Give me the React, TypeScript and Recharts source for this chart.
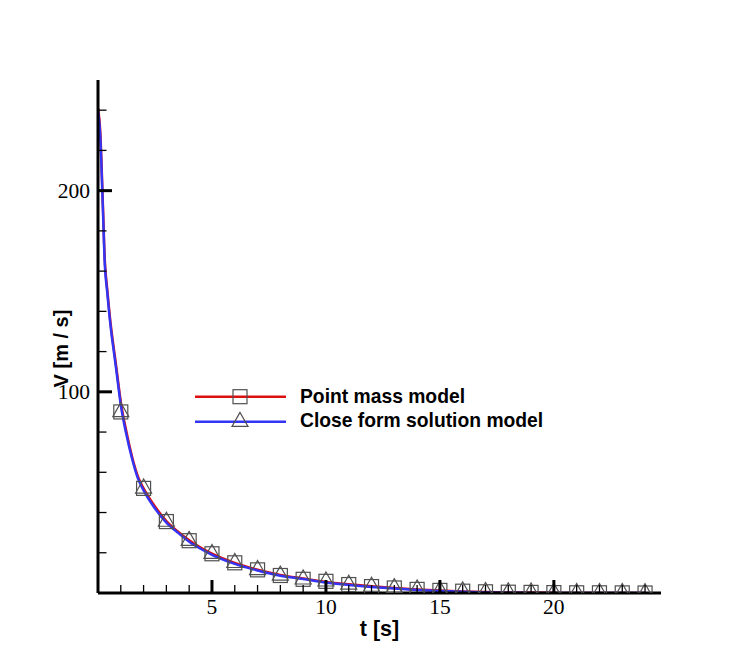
import React from 'react';
import { ComposedChart, Line, Scatter, XAxis, YAxis, Legend } from 'recharts';

// Time samples for the solution curves [s]
const curveTimes = [0, 0.1, 0.2, 0.3, 0.4, 0.5, 0.6, 0.7, 0.8, 0.9, 1.0, 1.25, 1.5, 1.75, 2.0, 2.5, 3.0, 3.5, 4.0, 4.5, 5.0, 6, 7, 8, 9, 10, 11, 12, 13, 14, 15, 16, 17, 18, 19, 20, 21, 22, 23, 24];
// Point mass model velocity [m/s]
const pointMassV = [241, 229, 198, 165, 151.5, 139.5, 129.5, 121, 112.5, 103.5, 95, 80, 67.5, 58, 52, 43, 35.8, 30.6, 26.2, 22.6, 19.6, 15, 11.6, 9, 7.2, 5.5, 4.3, 3.3, 2.5, 1.8, 1.2, 0.8, 0.5, 0.3, 0.2, 0.1, 0, 0, 0, 0];
// Close form solution model velocity [m/s]
const closeFormV = [240, 227, 196, 163, 150, 138, 128, 119.5, 111, 102, 93.5, 78.5, 66.5, 57, 51, 42, 35, 30, 25.5, 22, 19, 14.5, 11.2, 8.6, 7, 5.2, 4, 3, 2.2, 1.5, 1, 0.6, 0.3, 0.1, 0.05, 0, 0, 0, 0, 0];
// Marker samples
const markerTimes = [1, 2, 3, 4, 5, 6, 7, 8, 9, 10, 11, 12, 13, 14, 15, 16, 17, 18, 19, 20, 21, 22, 23, 24];
const markerV = [90, 52, 35.5, 26, 19.5, 15, 11.5, 8.7, 6.8, 5.8, 4.2, 3.2, 2.5, 1.8, 1.3, 0.9, 0.6, 0.4, 0.3, 0.2, 0.1, 0.1, 0.05, 0];

const xTicks = [1, 2, 3, 4, 5, 6, 7, 8, 9, 10, 11, 12, 13, 14, 15, 16, 17, 18, 19, 20, 21, 22, 23, 24];
const yTicks = [20, 40, 60, 80, 100, 120, 140, 160, 180, 200, 220, 240];
const xMajor = [5, 10, 15, 20];
const yMajor = [100, 200];

const seriesNames = ['Point mass model', 'Close form solution model'];
const xLabel = 't [s]';
const yLabel = 'V [m / s]';

const RED = '#dd1010';
const BLUE = '#3434f4';
const MARK = '#505050';

const redData = curveTimes.map((t, i) => ({ t, v: pointMassV[i] }));
const blueData = curveTimes.map((t, i) => ({ t, v: closeFormV[i] }));
const markerData = markerTimes.map((t, i) => ({ t, v: markerV[i] }));

const serif = '"Liberation Serif", "Times New Roman", serif';
const sans = '"Liberation Sans", Arial, sans-serif';

const XTick = (props: any) => {
  const { x, y, payload } = props;
  const major = xMajor.includes(payload.value);
  return (
    <g>
      <line x1={x} x2={x} y1={y} y2={y - (major ? 13 : 8)} stroke="#000" strokeWidth={major ? 3 : 1.3} />
      {major && (
        <text x={x} y={y + 21} textAnchor="middle" fontFamily={serif} fontSize={21.5} fill="#000">
          {payload.value}
        </text>
      )}
    </g>
  );
};

const YTick = (props: any) => {
  const { x, y, payload } = props;
  const major = yMajor.includes(payload.value);
  return (
    <g>
      <line x1={x} x2={x + (major ? 14 : 8.5)} y1={y} y2={y} stroke="#000" strokeWidth={major ? 3 : 1.3} />
      {major && (
        <text x={x - 8} y={y + 7.3} textAnchor="end" fontFamily={serif} fontSize={21.5} fill="#000">
          {payload.value}
        </text>
      )}
    </g>
  );
};

const Square = (props: any) => {
  const { cx, cy } = props;
  if (cx == null || cy == null) return <g />;
  return <rect x={cx - 7} y={cy - 7} width={14} height={14} fill="none" stroke={MARK} strokeWidth={1.2} />;
};

const Triangle = (props: any) => {
  const { cx, cy } = props;
  if (cx == null || cy == null) return <g />;
  const h = 14;
  const w = 16;
  const top = cy - (2 * h) / 3;
  const bot = cy + h / 3;
  return (
    <polygon
      points={`${cx},${top} ${cx - w / 2},${bot} ${cx + w / 2},${bot}`}
      fill="none"
      stroke={MARK}
      strokeWidth={1.2}
    />
  );
};

const LegendContent = () => (
  <svg width={370} height={50} style={{ display: 'block' }}>
    <line x1={5} x2={96} y1={13.7} y2={13.7} stroke={RED} strokeWidth={2.5} />
    <rect x={43} y={6.7} width={14} height={14} fill="none" stroke={MARK} strokeWidth={1.2} />
    <text x={110} y={20} fontFamily={sans} fontWeight="bold" fontSize={19.3} fill="#000">
      {seriesNames[0]}
    </text>
    <line x1={5} x2={96} y1={38.7} y2={38.7} stroke={BLUE} strokeWidth={2.5} />
    <polygon points={`50,${38.7 - 9.3} 42,${38.7 + 4.7} 58,${38.7 + 4.7}`} fill="none" stroke={MARK} strokeWidth={1.2} />
    <text x={110} y={43.5} fontFamily={sans} fontWeight="bold" fontSize={19.3} fill="#000">
      {seriesNames[1]}
    </text>
  </svg>
);

const XLabelContent = (props: any) => {
  const vb = props.viewBox || {};
  return (
    <text x={vb.x + vb.width / 2} y={vb.y + 43} textAnchor="middle" fontFamily={sans} fontWeight="bold" fontSize={21.5} fill="#000">
      {xLabel}
    </text>
  );
};

const YLabelContent = (props: any) => {
  const vb = props.viewBox || {};
  const cx = vb.x + 3;
  const cy = vb.y + vb.height / 2 + 12;
  return (
    <text
      x={cx}
      y={cy}
      transform={`rotate(-90 ${cx} ${cy})`}
      textAnchor="middle"
      dominantBaseline="central"
      fontFamily={sans}
      fontWeight="bold"
      fontSize={20}
      fill="#000"
    >
      {yLabel}
    </text>
  );
};

export default function App() {
  return (
    <div style={{ position: 'absolute', left: 0, top: 0, width: 750, height: 667, background: '#fff' }}>
      <ComposedChart width={750} height={667} margin={{ top: 80, right: 89, bottom: 34, left: 58 }}>
        <XAxis
          type="number"
          dataKey="t"
          domain={[0, 24.7]}
          ticks={xTicks}
          interval={0}
          allowDataOverflow
          height={40}
          tickSize={0}
          tickMargin={0}
          tickLine={false}
          axisLine={{ stroke: '#000', strokeWidth: 3 }}
          tick={XTick}
          label={{ content: XLabelContent } as any}
        />
        <YAxis
          type="number"
          dataKey="v"
          domain={[0, 255]}
          ticks={yTicks}
          interval={0}
          allowDataOverflow
          width={40}
          tickSize={0}
          tickMargin={0}
          tickLine={false}
          axisLine={{ stroke: '#000', strokeWidth: 3 }}
          tick={YTick}
          label={{ content: YLabelContent } as any}
        />
        <Line data={redData} dataKey="v" type="monotone" stroke={RED} strokeWidth={2.5} dot={false} activeDot={false} isAnimationActive={false} />
        <Line data={blueData} dataKey="v" type="monotone" stroke={BLUE} strokeWidth={2.5} dot={false} activeDot={false} isAnimationActive={false} />
        <Scatter data={markerData} dataKey="v" shape={Square} isAnimationActive={false} />
        <Scatter data={markerData} dataKey="v" shape={Triangle} isAnimationActive={false} />
        <Legend
          layout="horizontal"
          verticalAlign="middle"
          align="center"
          wrapperStyle={{ position: 'absolute', left: 190, top: 383, width: 370, height: 50 }}
          content={LegendContent}
        />
      </ComposedChart>
    </div>
  );
}
